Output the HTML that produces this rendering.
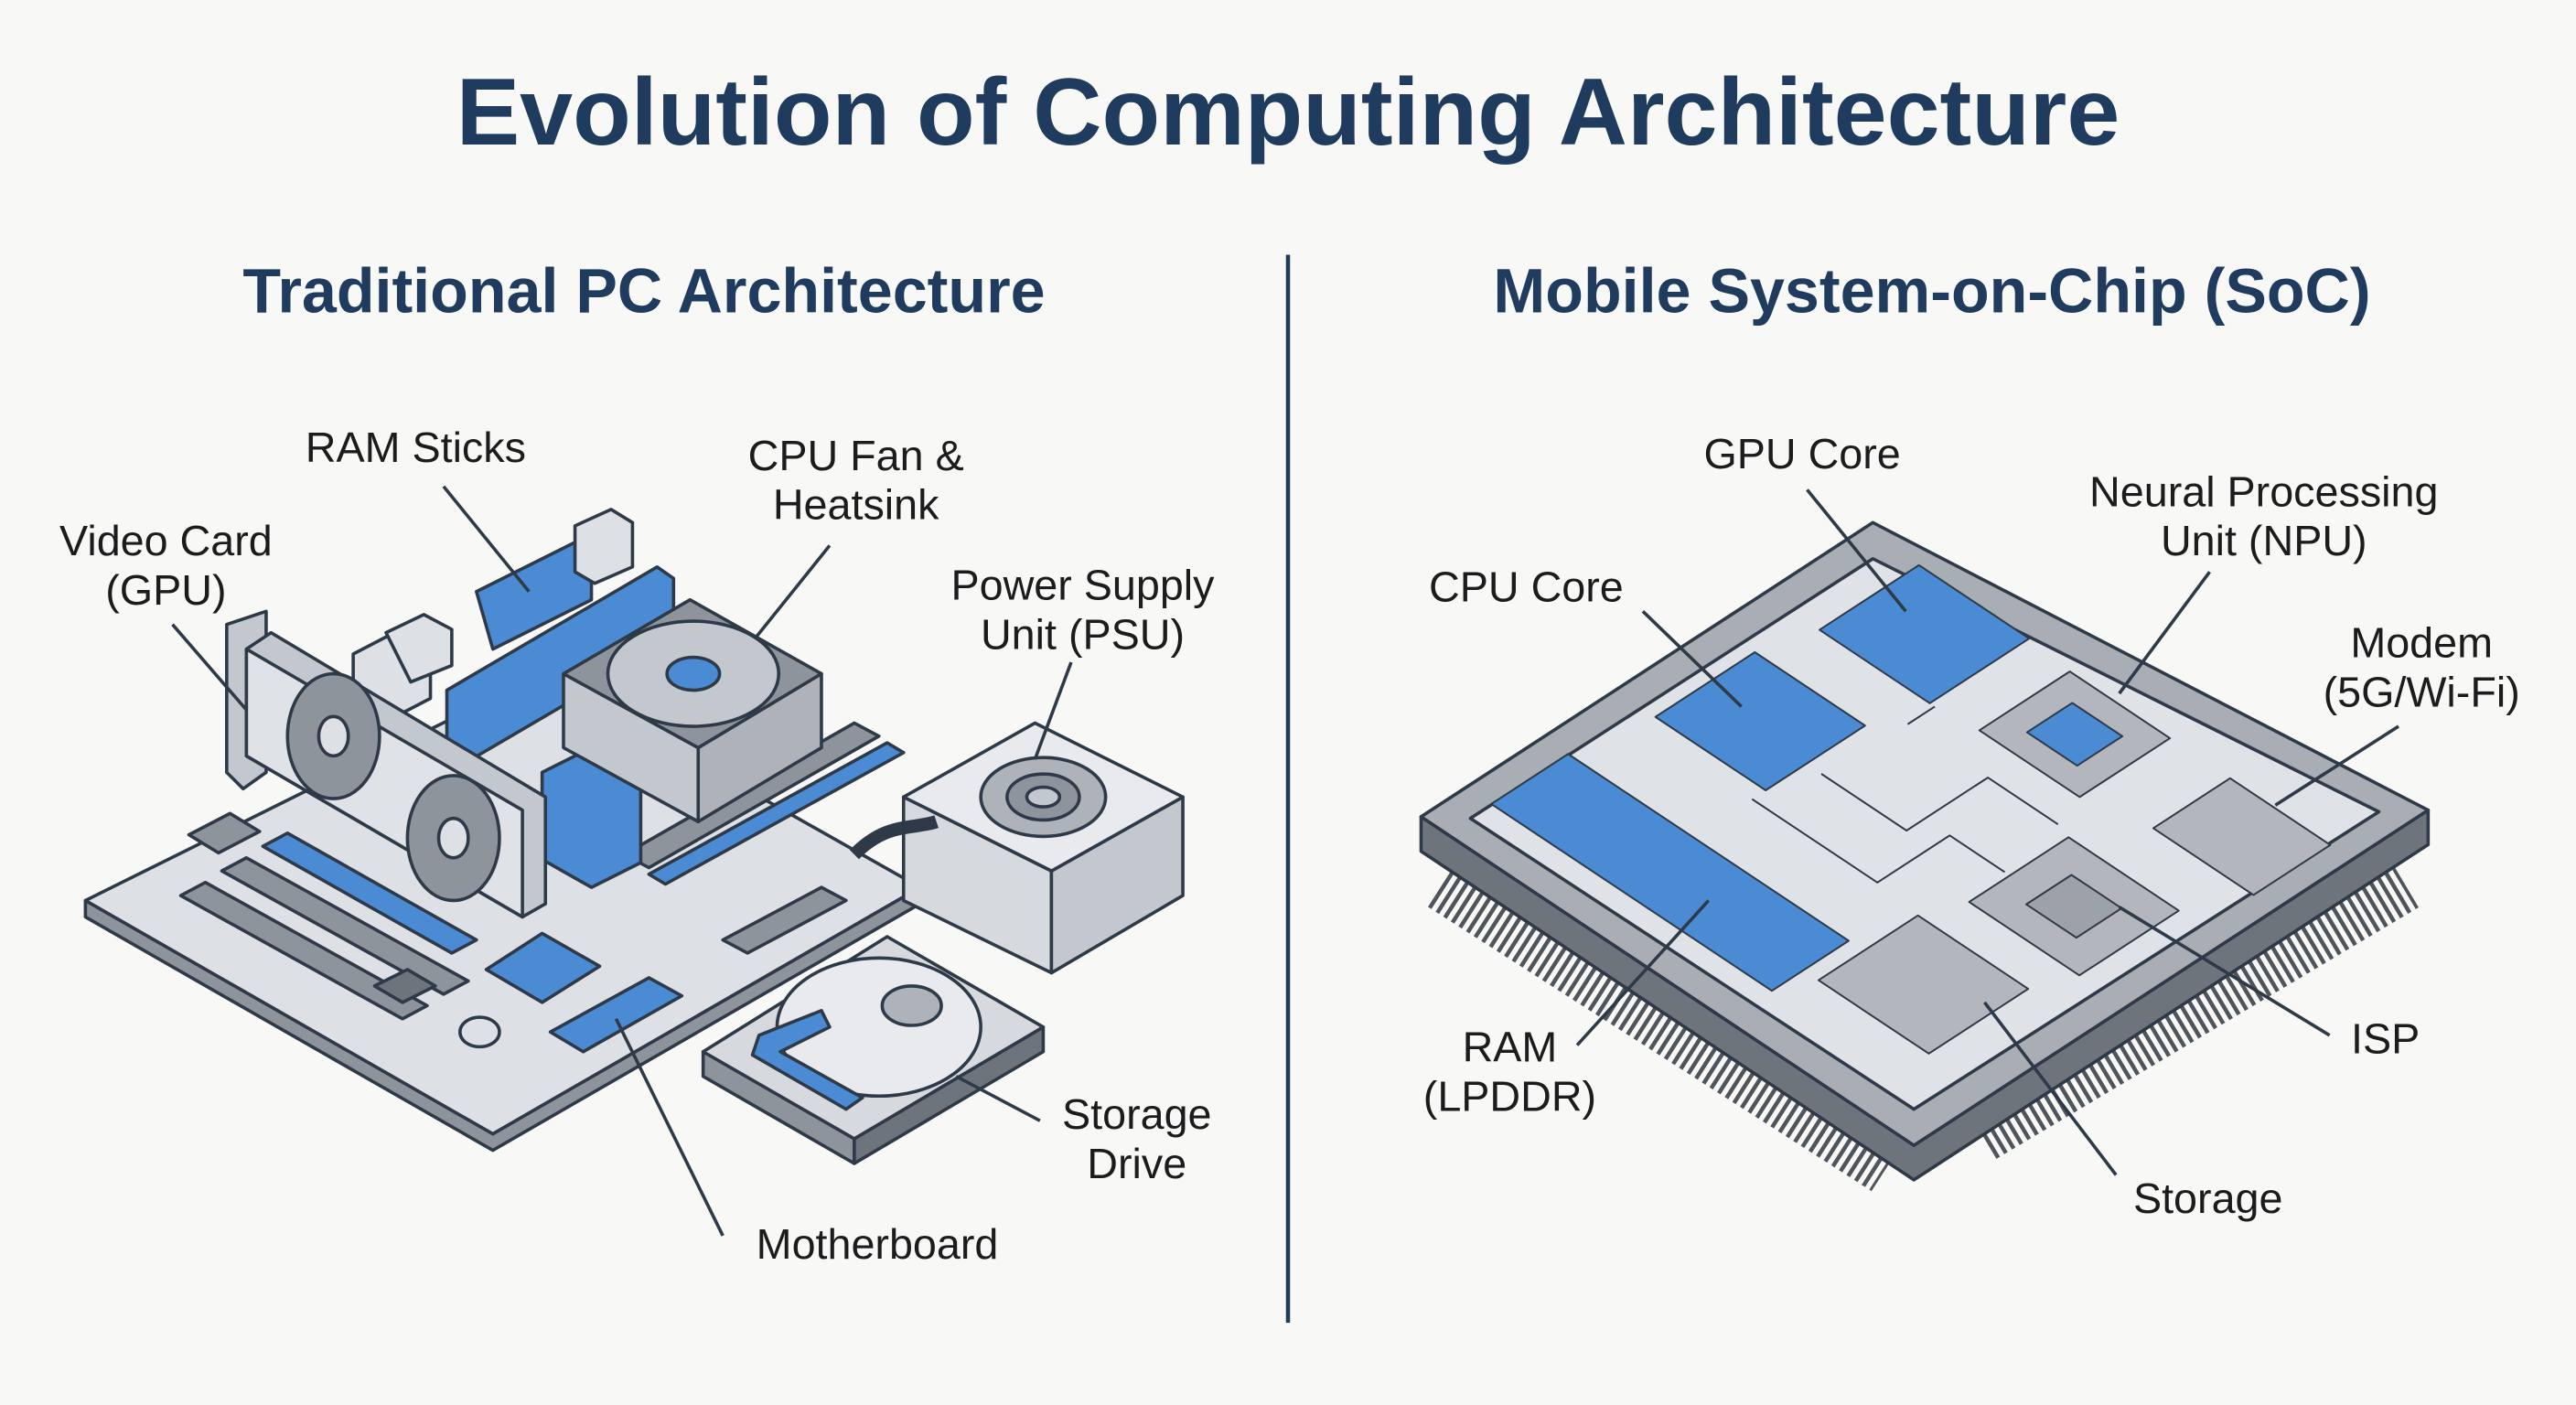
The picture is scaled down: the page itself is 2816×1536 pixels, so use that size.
<!DOCTYPE html>
<html><head><meta charset="utf-8"><style>
html,body{margin:0;padding:0;background:#f8f8f7;}
svg{display:block}
text{font-family:"Liberation Sans",sans-serif;}
</style></head><body>
<svg width="2816" height="1536" viewBox="0 0 1568 855" preserveAspectRatio="none" xmlns="http://www.w3.org/2000/svg">
<rect width="1568" height="855" fill="#f8f8f7"/>
<text x="784" y="88" text-anchor="middle" font-size="58" font-weight="bold" fill="#1f3b5e">Evolution of Computing Architecture</text>
<text x="392" y="190" text-anchor="middle" font-size="38" font-weight="bold" fill="#1f3b5e">Traditional PC Architecture</text>
<text x="1176" y="190" text-anchor="middle" font-size="38" font-weight="bold" fill="#1f3b5e">Mobile System-on-Chip (SoC)</text>
<line x1="784" y1="155" x2="784" y2="805" stroke="#1f3b5e" stroke-width="2.5"/>

<!-- LEFT: motherboard -->
<g stroke="#2f3a48" stroke-width="2" stroke-linejoin="round">
<polygon points="52,558 300,700 560,550 560,540 300,690 52,548" fill="#8e949c"/>
<polygon points="52,548 330,410 560,540 300,690" fill="#dde1e6"/>
<polygon points="110,545 125,537 260,612 245,620" fill="#8e949c"/>
<polygon points="135,530 150,522 285,597 270,605" fill="#8e949c"/>
<polygon points="160,515 175,507 290,572 275,580" fill="#4a8bd4"/>
<polygon points="115,508 140,495 158,506 133,519" fill="#8e949c"/>
<polygon points="228,600 248,590 265,600 245,610" fill="#6e747c"/>
<polygon points="296,590 330,568 365,588 330,610" fill="#4a8bd4"/>
<ellipse cx="292" cy="628" rx="12" ry="9" fill="#dde1e6"/>
<polygon points="335,628 395,595 415,606 355,640" fill="#4a8bd4"/>
<polygon points="440,572 500,540 515,548 455,580" fill="#8e949c"/>
<polygon points="380,520 520,440 535,448 395,528" fill="#8e949c"/>
<polygon points="395,532 540,452 550,458 405,538" fill="#4a8bd4"/>
<polygon points="272,420 400,345 410,352 410,390 282,465 272,458" fill="#4a8bd4"/>
<polygon points="290,360 350,330 360,336 360,365 300,395" fill="#4a8bd4"/>
<polygon points="350,320 372,310 385,318 385,345 362,355 350,348" fill="#dde1e6"/>
<polygon points="215,398 240,385 262,397 262,425 237,438 215,426" fill="#dde1e6"/>
<polygon points="235,385 258,374 275,383 275,405 250,415" fill="#dde1e6"/>
<polygon points="330,470 360,455 390,472 390,525 360,540 330,523" fill="#4a8bd4"/>
<polygon points="138,380 162,372 162,470 148,480 138,470" fill="#c3c8ce"/>
<polygon points="150,395 165,385 332,485 332,550 318,558 150,460" fill="#c3c8ce"/>
<polygon points="150,395 150,460 318,558 318,493" fill="#dfe2e6"/>
<ellipse cx="203" cy="448" rx="28" ry="38" fill="#8e949c"/>
<ellipse cx="203" cy="448" rx="9" ry="12" fill="#dde1e6"/>
<ellipse cx="276" cy="510" rx="28" ry="38" fill="#8e949c"/>
<ellipse cx="276" cy="510" rx="9" ry="12" fill="#dde1e6"/>
<polygon points="343,410 425,455 425,500 343,455" fill="#c3c8ce"/>
<polygon points="425,455 500,410 500,455 425,500" fill="#aeb3ba"/>
<polygon points="343,410 420,365 500,410 425,455" fill="#8e949c"/>
<ellipse cx="422" cy="410" rx="52" ry="32" fill="#c3c8ce"/>
<ellipse cx="422" cy="410" rx="16" ry="10" fill="#4a8bd4"/>
<polygon points="550,485 640,530 640,592 550,548" fill="#d6dade"/>
<polygon points="640,530 720,485 720,545 640,592" fill="#c3c8ce"/>
<polygon points="550,485 630,440 720,485 640,530" fill="#e8eaed"/>
<ellipse cx="635" cy="485" rx="38" ry="24" fill="#aeb3ba"/>
<ellipse cx="635" cy="485" rx="22" ry="14" fill="#8e949c"/>
<ellipse cx="635" cy="485" rx="10" ry="6" fill="#c3c8ce"/>
<path d="M520,520 C540,500 555,505 570,500" fill="none" stroke-width="8"/>
<polygon points="428,640 520,693 520,708 428,655" fill="#8e949c"/>
<polygon points="520,693 635,625 635,640 520,708" fill="#6e747c"/>
<polygon points="428,640 540,570 635,625 520,693" fill="#d6dade"/>
<ellipse cx="535" cy="625" rx="62" ry="42" fill="#e8eaed"/>
<ellipse cx="555" cy="612" rx="18" ry="12" fill="#aeb3ba"/>
<polygon points="462,630 500,615 505,625 475,640 525,668 515,675 458,642" fill="#4a8bd4"/>
</g>
<g stroke="#2f3a48" stroke-width="2" fill="none">
<line x1="270" y1="296" x2="322" y2="360"/>
<line x1="505" y1="332" x2="460" y2="388"/>
<line x1="105" y1="380" x2="150" y2="432"/>
<line x1="652" y1="403" x2="630" y2="462"/>
<line x1="633" y1="682" x2="582" y2="655"/>
<line x1="440" y1="752" x2="375" y2="620"/>
</g>
<g font-size="26" fill="#1c1c1c" text-anchor="middle">
<text x="253" y="281">RAM Sticks</text>
<text x="521" y="286">CPU Fan &amp;</text><text x="521" y="316">Heatsink</text>
<text x="101" y="338">Video Card</text><text x="101" y="368">(GPU)</text>
<text x="659" y="365">Power Supply</text><text x="659" y="395">Unit (PSU)</text>
<text x="692" y="687">Storage</text><text x="692" y="717">Drive</text>
<text x="534" y="766">Motherboard</text>
</g>

<!-- RIGHT: SoC -->
<g stroke="#2f3a48" stroke-width="2" stroke-linejoin="round">
<line x1="880" y1="535" x2="1150" y2="708" stroke="#4f555c" stroke-width="40" stroke-dasharray="2.5 3"/>
<line x1="1205" y1="688" x2="1462" y2="535" stroke="#4f555c" stroke-width="40" stroke-dasharray="2.5 3"/>
<polygon points="865,497 865,518 1165,718 1478,514 1478,493 1165,697" fill="#6e747c"/>
<polygon points="865,497 1140,318 1478,493 1165,697" fill="#a9aeb5"/>
<polygon points="895,498 1140,340 1448,494 1165,675" fill="#dfe2e6"/>
<g transform="matrix(3.05 2.03 2.75 -1.79 865 497)">
 <rect x="5" y="10" width="56" height="17" fill="#4a8bd4" stroke="#2f3a48" stroke-width="2" vector-effect="non-scaling-stroke"/>
 <rect x="8" y="43" width="22" height="22" fill="#4a8bd4" stroke="#2f3a48" stroke-width="2" vector-effect="non-scaling-stroke"/>
 <rect x="11" y="76" width="22" height="22" fill="#4a8bd4" stroke="#2f3a48" stroke-width="2" vector-effect="non-scaling-stroke"/>
 <rect x="42" y="77" width="20" height="20" fill="#b3b7bd" stroke="#2f3a48" stroke-width="2" vector-effect="non-scaling-stroke"/>
 <rect x="47" y="82" width="10" height="10" fill="#4a8bd4" stroke="#2f3a48" stroke-width="2" vector-effect="non-scaling-stroke"/>
 <rect x="74" y="80" width="20" height="17" fill="#b3b7bd" stroke="#2f3a48" stroke-width="2" vector-effect="non-scaling-stroke"/>
 <rect x="67" y="47" width="22" height="22" fill="#b3b7bd" stroke="#2f3a48" stroke-width="2" vector-effect="non-scaling-stroke"/>
 <rect x="73" y="53" width="10" height="10" fill="#9da2a9" stroke="#2f3a48" stroke-width="2" vector-effect="non-scaling-stroke"/>
 <rect x="64" y="17" width="22" height="22" fill="#b3b7bd" stroke="#2f3a48" stroke-width="2" vector-effect="non-scaling-stroke"/>
 <polyline points="33,52 50,52 50,70 64,70" fill="none" stroke="#2f3a48" stroke-width="2" vector-effect="non-scaling-stroke"/>
 <polyline points="30,40 55,40 55,56 66,56" fill="none" stroke="#2f3a48" stroke-width="2" vector-effect="non-scaling-stroke"/>
 <polyline points="34,70 34,76" fill="none" stroke="#2f3a48" stroke-width="2" vector-effect="non-scaling-stroke"/>
</g>
</g>
<g stroke="#2f3a48" stroke-width="2" fill="none">
<line x1="1100" y1="298" x2="1160" y2="372"/>
<line x1="1345" y1="348" x2="1290" y2="422"/>
<line x1="1000" y1="372" x2="1060" y2="430"/>
<line x1="1460" y1="442" x2="1385" y2="490"/>
<line x1="960" y1="636" x2="1040" y2="548"/>
<line x1="1418" y1="630" x2="1290" y2="552"/>
<line x1="1288" y1="715" x2="1208" y2="610"/>
</g>
<g font-size="26" fill="#1c1c1c" text-anchor="middle">
<text x="1097" y="285">GPU Core</text>
<text x="1378" y="308">Neural Processing</text><text x="1378" y="338">Unit (NPU)</text>
<text x="929" y="366">CPU Core</text>
<text x="1474" y="400">Modem</text><text x="1474" y="430">(5G/Wi-Fi)</text>
<text x="919" y="646">RAM</text><text x="919" y="676">(LPDDR)</text>
<text x="1452" y="641">ISP</text>
<text x="1344" y="738">Storage</text>
</g>
</svg>
</body></html>
